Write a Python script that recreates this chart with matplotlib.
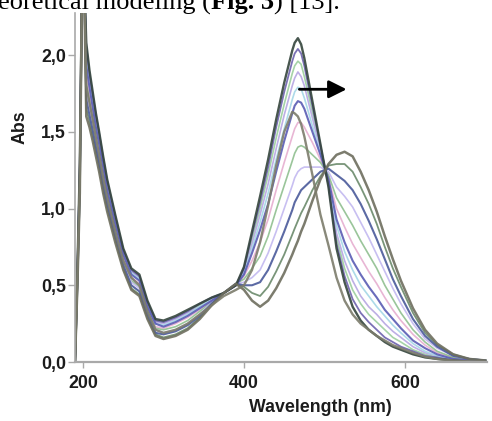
import matplotlib
matplotlib.use("Agg")
import matplotlib.pyplot as plt
from matplotlib.ticker import FuncFormatter
from matplotlib.font_manager import FontProperties

# Wavelength grid (nm) shared by every spectrum
wavelength = [190, 193, 196, 199, 201, 204, 208, 212, 216, 220, 225, 230, 240, 250,
              260, 270, 280, 290, 300, 315, 330, 345, 360, 375, 390, 400, 410, 420,
              430, 440, 450, 460, 463, 467, 471, 475, 485, 495, 505, 515, 525, 535, 545, 555,
              565, 575, 585, 595, 610, 625, 640, 660, 680, 700]

# Absorbance spectra recorded along the titration (start -> end)
abs_step00 = [0.00, 0.60, 1.30, 2.60, 2.60, 2.08, 1.90, 1.76, 1.62, 1.50, 1.34, 1.19, 0.96, 0.74,
              0.61, 0.57, 0.40, 0.28, 0.27, 0.30, 0.34, 0.38, 0.42, 0.45, 0.50, 0.62, 0.85, 1.08,
              1.32, 1.58, 1.82, 2.03, 2.08, 2.11, 2.07, 1.98, 1.70, 1.42, 1.14, 0.74, 0.52, 0.36, 0.27, 0.21,
              0.17, 0.13, 0.10, 0.08, 0.05, 0.03, 0.02, 0.01, 0.00, 0.00]
abs_step01 = [0.00, 0.60, 1.29, 2.60, 2.60, 2.06, 1.88, 1.74, 1.61, 1.49, 1.33, 1.18, 0.95, 0.73,
              0.60, 0.56, 0.39, 0.27, 0.26, 0.29, 0.33, 0.38, 0.42, 0.45, 0.50, 0.61, 0.83, 1.04,
              1.27, 1.53, 1.76, 1.96, 2.01, 2.04, 2.01, 1.93, 1.67, 1.41, 1.15, 0.77, 0.56, 0.41, 0.32, 0.26,
              0.21, 0.16, 0.13, 0.10, 0.07, 0.04, 0.03, 0.01, 0.01, 0.00]
abs_step02 = [0.00, 0.59, 1.28, 2.60, 2.60, 2.03, 1.86, 1.72, 1.59, 1.47, 1.31, 1.17, 0.94, 0.72,
              0.59, 0.55, 0.39, 0.27, 0.26, 0.29, 0.33, 0.37, 0.41, 0.45, 0.50, 0.60, 0.80, 1.00,
              1.22, 1.46, 1.68, 1.88, 1.93, 1.96, 1.94, 1.86, 1.63, 1.40, 1.16, 0.81, 0.61, 0.47, 0.38, 0.31,
              0.26, 0.21, 0.16, 0.13, 0.08, 0.05, 0.03, 0.01, 0.01, 0.00]
abs_step03 = [0.00, 0.58, 1.27, 2.60, 2.60, 2.00, 1.84, 1.71, 1.57, 1.46, 1.30, 1.15, 0.93, 0.72,
              0.59, 0.55, 0.38, 0.26, 0.25, 0.28, 0.32, 0.36, 0.41, 0.45, 0.50, 0.59, 0.77, 0.96,
              1.16, 1.39, 1.61, 1.80, 1.85, 1.89, 1.86, 1.80, 1.59, 1.38, 1.17, 0.84, 0.66, 0.53, 0.43, 0.36,
              0.31, 0.25, 0.20, 0.16, 0.10, 0.06, 0.04, 0.02, 0.01, 0.00]
abs_step04 = [0.00, 0.58, 1.25, 2.60, 2.60, 1.96, 1.81, 1.68, 1.55, 1.44, 1.28, 1.14, 0.92, 0.71,
              0.58, 0.54, 0.37, 0.25, 0.24, 0.27, 0.31, 0.36, 0.41, 0.45, 0.50, 0.58, 0.74, 0.91,
              1.10, 1.32, 1.52, 1.71, 1.76, 1.79, 1.78, 1.72, 1.54, 1.36, 1.18, 0.89, 0.72, 0.60, 0.50, 0.43,
              0.36, 0.30, 0.24, 0.19, 0.12, 0.07, 0.04, 0.02, 0.01, 0.00]
abs_step05 = [0.00, 0.57, 1.24, 2.60, 2.60, 1.93, 1.79, 1.66, 1.53, 1.42, 1.27, 1.12, 0.90, 0.70,
              0.57, 0.53, 0.36, 0.25, 0.23, 0.26, 0.30, 0.35, 0.40, 0.45, 0.50, 0.57, 0.71, 0.86,
              1.03, 1.24, 1.44, 1.62, 1.67, 1.70, 1.69, 1.65, 1.50, 1.35, 1.19, 0.93, 0.78, 0.66, 0.57, 0.49,
              0.42, 0.34, 0.28, 0.22, 0.14, 0.09, 0.05, 0.02, 0.01, 0.00]
abs_step06 = [0.00, 0.56, 1.22, 2.60, 2.60, 1.88, 1.74, 1.63, 1.50, 1.39, 1.24, 1.10, 0.88, 0.68,
              0.55, 0.51, 0.35, 0.23, 0.22, 0.25, 0.29, 0.34, 0.40, 0.45, 0.50, 0.56, 0.66, 0.78,
              0.93, 1.12, 1.30, 1.47, 1.52, 1.56, 1.56, 1.53, 1.43, 1.32, 1.20, 1.00, 0.88, 0.77, 0.68, 0.59,
              0.51, 0.42, 0.34, 0.27, 0.18, 0.11, 0.06, 0.03, 0.01, 0.00]
abs_step07 = [0.00, 0.55, 1.19, 2.60, 2.60, 1.82, 1.70, 1.59, 1.47, 1.36, 1.21, 1.08, 0.86, 0.66,
              0.53, 0.49, 0.34, 0.22, 0.21, 0.23, 0.27, 0.33, 0.39, 0.45, 0.51, 0.54, 0.61, 0.69,
              0.82, 0.99, 1.15, 1.31, 1.36, 1.40, 1.41, 1.40, 1.35, 1.30, 1.22, 1.07, 0.98, 0.89, 0.79, 0.70,
              0.61, 0.50, 0.41, 0.32, 0.21, 0.13, 0.07, 0.03, 0.01, 0.01]
abs_step08 = [0.00, 0.53, 1.17, 2.60, 2.60, 1.76, 1.66, 1.55, 1.44, 1.33, 1.18, 1.05, 0.84, 0.65,
              0.52, 0.48, 0.32, 0.21, 0.19, 0.21, 0.25, 0.31, 0.39, 0.45, 0.51, 0.52, 0.55, 0.60,
              0.71, 0.85, 1.00, 1.15, 1.20, 1.24, 1.26, 1.27, 1.27, 1.27, 1.24, 1.14, 1.08, 1.01, 0.91, 0.81,
              0.70, 0.59, 0.48, 0.38, 0.25, 0.15, 0.09, 0.04, 0.02, 0.01]
abs_step09 = [0.00, 0.52, 1.14, 2.60, 2.60, 1.71, 1.61, 1.51, 1.40, 1.30, 1.15, 1.03, 0.82, 0.63,
              0.50, 0.46, 0.31, 0.19, 0.18, 0.20, 0.24, 0.30, 0.38, 0.45, 0.51, 0.50, 0.50, 0.52,
              0.60, 0.72, 0.85, 0.99, 1.04, 1.08, 1.12, 1.14, 1.19, 1.24, 1.26, 1.22, 1.18, 1.12, 1.03, 0.92,
              0.80, 0.67, 0.54, 0.43, 0.28, 0.17, 0.10, 0.04, 0.02, 0.01]
abs_step10 = [0.00, 0.51, 1.12, 2.60, 2.60, 1.65, 1.57, 1.47, 1.37, 1.27, 1.12, 1.00, 0.80, 0.61,
              0.48, 0.44, 0.29, 0.18, 0.16, 0.18, 0.22, 0.29, 0.38, 0.45, 0.51, 0.49, 0.45, 0.43,
              0.49, 0.59, 0.70, 0.83, 0.87, 0.92, 0.97, 1.01, 1.12, 1.21, 1.28, 1.29, 1.29, 1.24, 1.14, 1.03,
              0.90, 0.75, 0.61, 0.49, 0.32, 0.19, 0.11, 0.05, 0.02, 0.01]
abs_step11 = [0.00, 0.50, 1.10, 2.60, 2.60, 1.60, 1.53, 1.44, 1.34, 1.24, 1.10, 0.98, 0.78, 0.60,
              0.47, 0.43, 0.28, 0.17, 0.15, 0.17, 0.21, 0.28, 0.37, 0.45, 0.51, 0.47, 0.40, 0.36,
              0.40, 0.48, 0.58, 0.70, 0.74, 0.79, 0.85, 0.90, 1.05, 1.19, 1.29, 1.35, 1.37, 1.34, 1.24, 1.12,
              0.98, 0.82, 0.67, 0.53, 0.35, 0.21, 0.12, 0.05, 0.02, 0.01]
# Separate reference spectrum (grey trace peaking near 460 nm)
abs_reference = [0.00, 0.55, 1.20, 2.60, 2.60, 1.80, 1.69, 1.58, 1.46, 1.35, 1.20, 1.07, 0.85, 0.66,
                 0.55, 0.50, 0.33, 0.21, 0.19, 0.21, 0.25, 0.31, 0.37, 0.43, 0.47, 0.50, 0.60, 0.78,
                 1.02, 1.28, 1.50, 1.63, 1.62, 1.60, 1.55, 1.47, 1.22, 0.96, 0.76, 0.55, 0.40, 0.31, 0.25, 0.21,
                 0.17, 0.14, 0.11, 0.09, 0.06, 0.035, 0.02, 0.01, 0.005, 0.00]

titration = [abs_step00, abs_step01, abs_step02, abs_step03, abs_step04, abs_step05,
             abs_step06, abs_step07, abs_step08, abs_step09, abs_step10, abs_step11]

y_ticks = [0.0, 0.5, 1.0, 1.5, 2.0]
x_ticks = [200, 400, 600]

# line styling for each titration step
line_colors = ["#34453c", "#6d62ad", "#9ccf9e", "#b6a6e2", "#a4d6e6", "#5a5cb4",
               "#e6aed0", "#8fbf8f", "#c2b8f0", "#4a5a9a", "#6b8a6b", "#6e6e5e"]
line_widths = [1.7, 1.3, 1.2, 1.2, 1.2, 1.5, 1.2, 1.2, 1.2, 1.5, 1.3, 1.8]
draw_order = [2, 3, 4, 6, 7, 8, 10, 1, 5, 9, 0, 11]

W, H = 492, 421
fig = plt.figure(figsize=(W / 100, H / 100), dpi=100)
ax = fig.add_axes([75 / W, 59 / H, 412 / W, 349 / H])

for k, idx in enumerate(draw_order):
    ax.plot(wavelength, titration[idx], color=line_colors[idx], lw=line_widths[idx],
            alpha=0.9, solid_joinstyle="round", zorder=2 + k * 0.01)
ax.plot(wavelength, abs_reference, color="#7c7c6c", lw=1.7, alpha=0.9, zorder=2.2)

ax.set_xlim(190, 702)
ax.set_ylim(0, 2.274)
ax.set_xticks(x_ticks)
ax.set_yticks(y_ticks)
ax.yaxis.set_major_formatter(FuncFormatter(lambda v, p: f"{v:.1f}".replace(".", ",")))

for s in ("top", "right"):
    ax.spines[s].set_visible(False)
ax.spines["bottom"].set_color("#a9a9a9")
ax.spines["bottom"].set_linewidth(1.6)
ax.spines["left"].set_color("#a9a9a9")
ax.spines["left"].set_linewidth(1.2)

tick_font = dict(family="Liberation Sans", weight="bold", size=12.8)
ax.tick_params(axis="x", direction="out", length=4, width=1, color="#a9a9a9", pad=5,
               labelcolor="#1c1c1c")
ax.tick_params(axis="y", direction="out", length=5, width=1, color="#a9a9a9", pad=1.5,
               labelcolor="#1c1c1c")
for lab in ax.get_xticklabels() + ax.get_yticklabels():
    lab.set_fontproperties(FontProperties(**tick_font))

fig.text(320 / W, 1 - 407 / H, "Wavelength (nm)", ha="center", va="center",
         color="#1c1c1c", **tick_font)
fig.text(20 / W, 1 - 127 / H, "Abs", ha="center", va="center", rotation=90,
         color="#1c1c1c", **tick_font)

# arrow showing the red shift of the visible band
ax.annotate("", xy=(527.5, 1.777), xytext=(468.8, 1.777),
            arrowprops=dict(arrowstyle="-|>,head_length=1.0,head_width=0.5",
                            mutation_scale=10.8, lw=2, color="black",
                            shrinkA=0, shrinkB=0), zorder=5)

# running text line above the figure
renderer = fig.canvas.get_renderer()
x_px = -2.0
base_y = 1 - 9.5 / H
pieces = [("eoretical modeling (", "normal"), ("Fig. 3", "bold"), (") [13].", "normal")]
for txt, wt in pieces:
    t = fig.text(x_px / W, base_y, txt, ha="left", va="baseline", color="black",
                 family="Liberation Serif", weight=wt, size=19)
    bb = t.get_window_extent(renderer=renderer)
    x_px = bb.x1

fig.savefig("out.png", dpi=100)
